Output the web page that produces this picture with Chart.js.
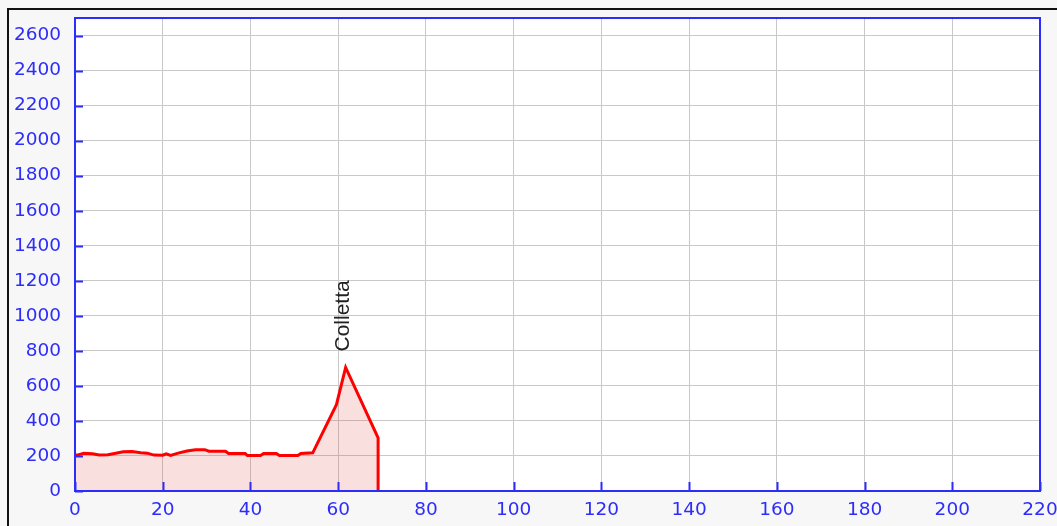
<!DOCTYPE html>
<html lang="it">
<head>
    <meta charset="UTF-8">
    <title>Profilo altimetrico</title>
    <script src="https://cdn.jsdelivr.net/npm/chart.js"></script>
    <style>
        html, body {
            margin: 0;
            padding: 0;
            background: #f7f7f7;
            overflow: hidden;
        }
        #wrap {
            width: 1057px;
            height: 526px;
        }
    </style>
</head>
<body>
    <div id="wrap"><canvas id="profileChart" width="1057" height="526"></canvas></div>
    <script>
        // distanza (km) e quota (m)
        const distance = [0, 0.5, 2, 4, 5.5, 7.5, 9, 11, 13, 15, 16.5, 18, 20, 20.8, 21.8, 23.5, 25.5, 27.5, 29.6, 30.5, 34.3, 35, 38.8, 39.3, 42.3, 43, 45.9, 46.6, 50.8, 51.5, 54.2, 59.6, 61.7, 69.1, 69.1];
        const altitude = [205, 205, 215, 213, 205, 207, 214, 224, 226, 218, 216, 205, 204, 212, 203, 216, 228, 236, 236, 227, 227, 214, 214, 202, 202, 214, 214, 202, 202, 214, 218, 493, 705, 303, 0];

        const peakNames = ['Colletta'];
        const peakDistance = [61.7];
        const peakAltitude = [705];

        const xMax = 220;
        const yMax = 2700;

        const axisBlue = '#2d2dfa';
        const gridGrey = '#c9c9c9';

        const frame = {
            id: 'frame',
            beforeDraw(chart) {
                const ctx = chart.ctx;
                const a = chart.chartArea;
                ctx.save();
                ctx.fillStyle = '#f7f7f7';
                ctx.fillRect(0, 0, chart.width, chart.height);
                ctx.strokeStyle = '#111';
                ctx.lineWidth = 2;
                ctx.beginPath();
                ctx.moveTo(8, chart.height);
                ctx.lineTo(8, 9);
                ctx.lineTo(chart.width, 9);
                ctx.stroke();
                ctx.fillStyle = '#fff';
                ctx.fillRect(a.left, a.top, a.right - a.left, a.bottom - a.top);
                ctx.restore();
            },
            afterDraw(chart) {
                const ctx = chart.ctx;
                const a = chart.chartArea;
                const xs = chart.scales.x;
                const ys = chart.scales.y;
                ctx.save();
                // tacche interne
                ctx.strokeStyle = axisBlue;
                ctx.lineWidth = 2;
                ctx.beginPath();
                ys.ticks.forEach(t => {
                    const py = Math.round(ys.getPixelForValue(t.value)) + 0.5;
                    ctx.moveTo(a.left, py);
                    ctx.lineTo(a.left + 8, py);
                });
                xs.ticks.forEach(t => {
                    const px = Math.round(xs.getPixelForValue(t.value)) + 0.5;
                    ctx.moveTo(px, a.bottom);
                    ctx.lineTo(px, a.bottom - 9);
                });
                ctx.stroke();
                ctx.strokeRect(a.left, a.top, a.right - a.left, a.bottom - a.top);

                // nomi delle cime
                ctx.fillStyle = '#222';
                ctx.font = '21px "Liberation Sans", Arial, sans-serif';
                ctx.textAlign = 'left';
                ctx.textBaseline = 'middle';
                peakNames.forEach((name, i) => {
                    const px = xs.getPixelForValue(peakDistance[i]) - 2;
                    const py = ys.getPixelForValue(peakAltitude[i]) - 16;
                    ctx.save();
                    ctx.translate(px, py);
                    ctx.rotate(-Math.PI / 2);
                    ctx.fillText(name, 0, 0);
                    ctx.restore();
                });
                ctx.restore();
            }
        };

        const points = distance.map((d, i) => ({ x: d, y: altitude[i] }));
        const plainNumber = v => String(v);

        new Chart(document.getElementById('profileChart').getContext('2d'), {
            type: 'line',
            data: {
                datasets: [{
                    data: points,
                    borderColor: '#ff0000',
                    borderWidth: 3,
                    backgroundColor: 'rgba(230, 80, 80, 0.18)',
                    fill: 'origin',
                    tension: 0,
                    pointRadius: 0
                }]
            },
            options: {
                responsive: false,
                animation: false,
                layout: { padding: { left: 0, top: 18, right: 17, bottom: 0 } },
                plugins: {
                    legend: { display: false },
                    tooltip: { enabled: false }
                },
                scales: {
                    x: {
                        type: 'linear',
                        min: 0,
                        max: xMax,
                        ticks: {
                            stepSize: 20,
                            color: axisBlue,
                            padding: 8,
                            maxRotation: 0,
                            callback: plainNumber,
                            font: { family: 'DejaVu Sans', size: 18.5 }
                        },
                        grid: { color: gridGrey, drawTicks: false },
                        border: { color: axisBlue, width: 2 },
                        afterFit(scale) {
                            scale.height = 35;
                            scale.paddingLeft = 0;
                            scale.paddingRight = 0;
                        }
                    },
                    y: {
                        min: 0,
                        max: yMax,
                        ticks: {
                            stepSize: 200,
                            includeBounds: false,
                            color: axisBlue,
                            padding: 14,
                            callback: plainNumber,
                            font: { family: 'DejaVu Sans', size: 18.5 }
                        },
                        grid: { color: gridGrey, drawTicks: false },
                        border: { color: axisBlue, width: 2 },
                        afterFit(scale) {
                            scale.width = 75;
                            scale.paddingTop = 0;
                            scale.paddingBottom = 0;
                        }
                    }
                }
            },
            plugins: [frame]
        });
    </script>
</body>
</html>
